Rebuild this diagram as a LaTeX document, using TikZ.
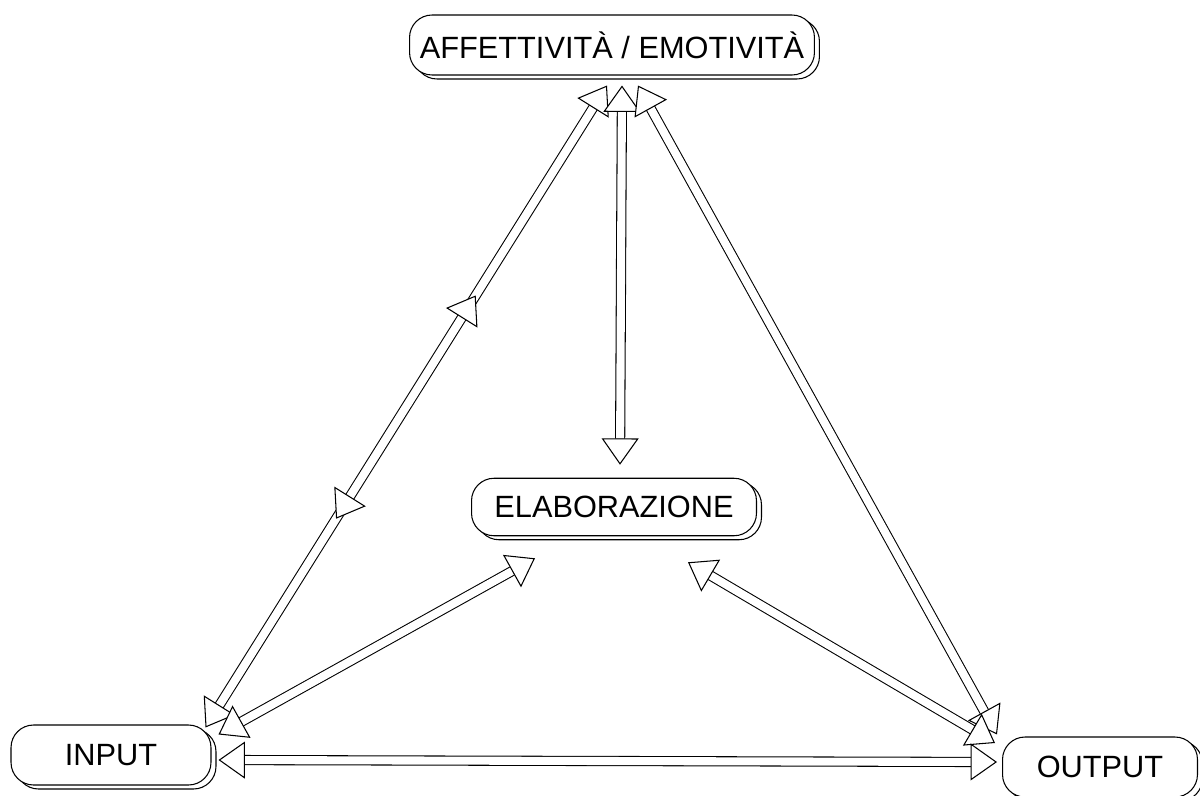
\documentclass[tikz,border=0pt]{standalone}
\usepackage{fontspec}
\setmainfont{Liberation Sans}
\usetikzlibrary{arrows.meta, calc, shadows, decorations.markings}

\begin{document}
\begin{tikzpicture}[
  x=0.02cm, y=-0.02cm,
  font=\fontsize{17.5}{20}\selectfont,
  >={Triangle[fill=white, width=21pt, length=15pt, line width=0.6pt]},
  box/.style={draw, fill=white, rounded corners=0.45cm, line width=0.6pt, minimum height=1.2cm,
    copy shadow={shadow xshift=0.1cm, shadow yshift=-0.08cm}},
  link/.style={<->, double, double distance=4.6pt, line width=0.6pt}
]
  \useasboundingbox (0,0) rectangle (1200,795);
  % boxes
  \node[box, minimum width=8.1cm] (aff) at (612,45) {AFFETTIVITÀ / EMOTIVITÀ};
  \node[box, minimum width=5.7cm, minimum height=1.15cm] (elab) at (614,507) {ELABORAZIONE};
  \node[box, minimum width=4cm] (input) at (111,755) {INPUT};
  \node[box, minimum width=3.9cm] (output) at (1100,767) {OUTPUT};
  % links
  \draw[link, postaction={decorate, decoration={markings,
      mark=at position 0.36 with {\arrow{<}},
      mark=at position 0.673 with {\arrow{>}}}}]
    ($(input.north east)+(-6,3)$) -- ($(aff.south)+(-5,10)$);
  \draw[link] ($(aff.south)+(10,10)$) -- ($(elab.north)+(6,-13)$);
  \draw[link] ($(aff.south)+(26,10)$) -- ($(output.north west)+(-5,-2)$);
  \draw[link] ($(input.north east)+(7,10)$) -- ($(elab.south)+(-79,22)$);
  \draw[link] ($(elab.south)+(74,26)$) -- ($(output.west)+(-7,-24)$);
  \draw[link] ($(input.east)+(7,5)$) -- ($(output.west)+(-5,-5)$);
\end{tikzpicture}
\end{document}
